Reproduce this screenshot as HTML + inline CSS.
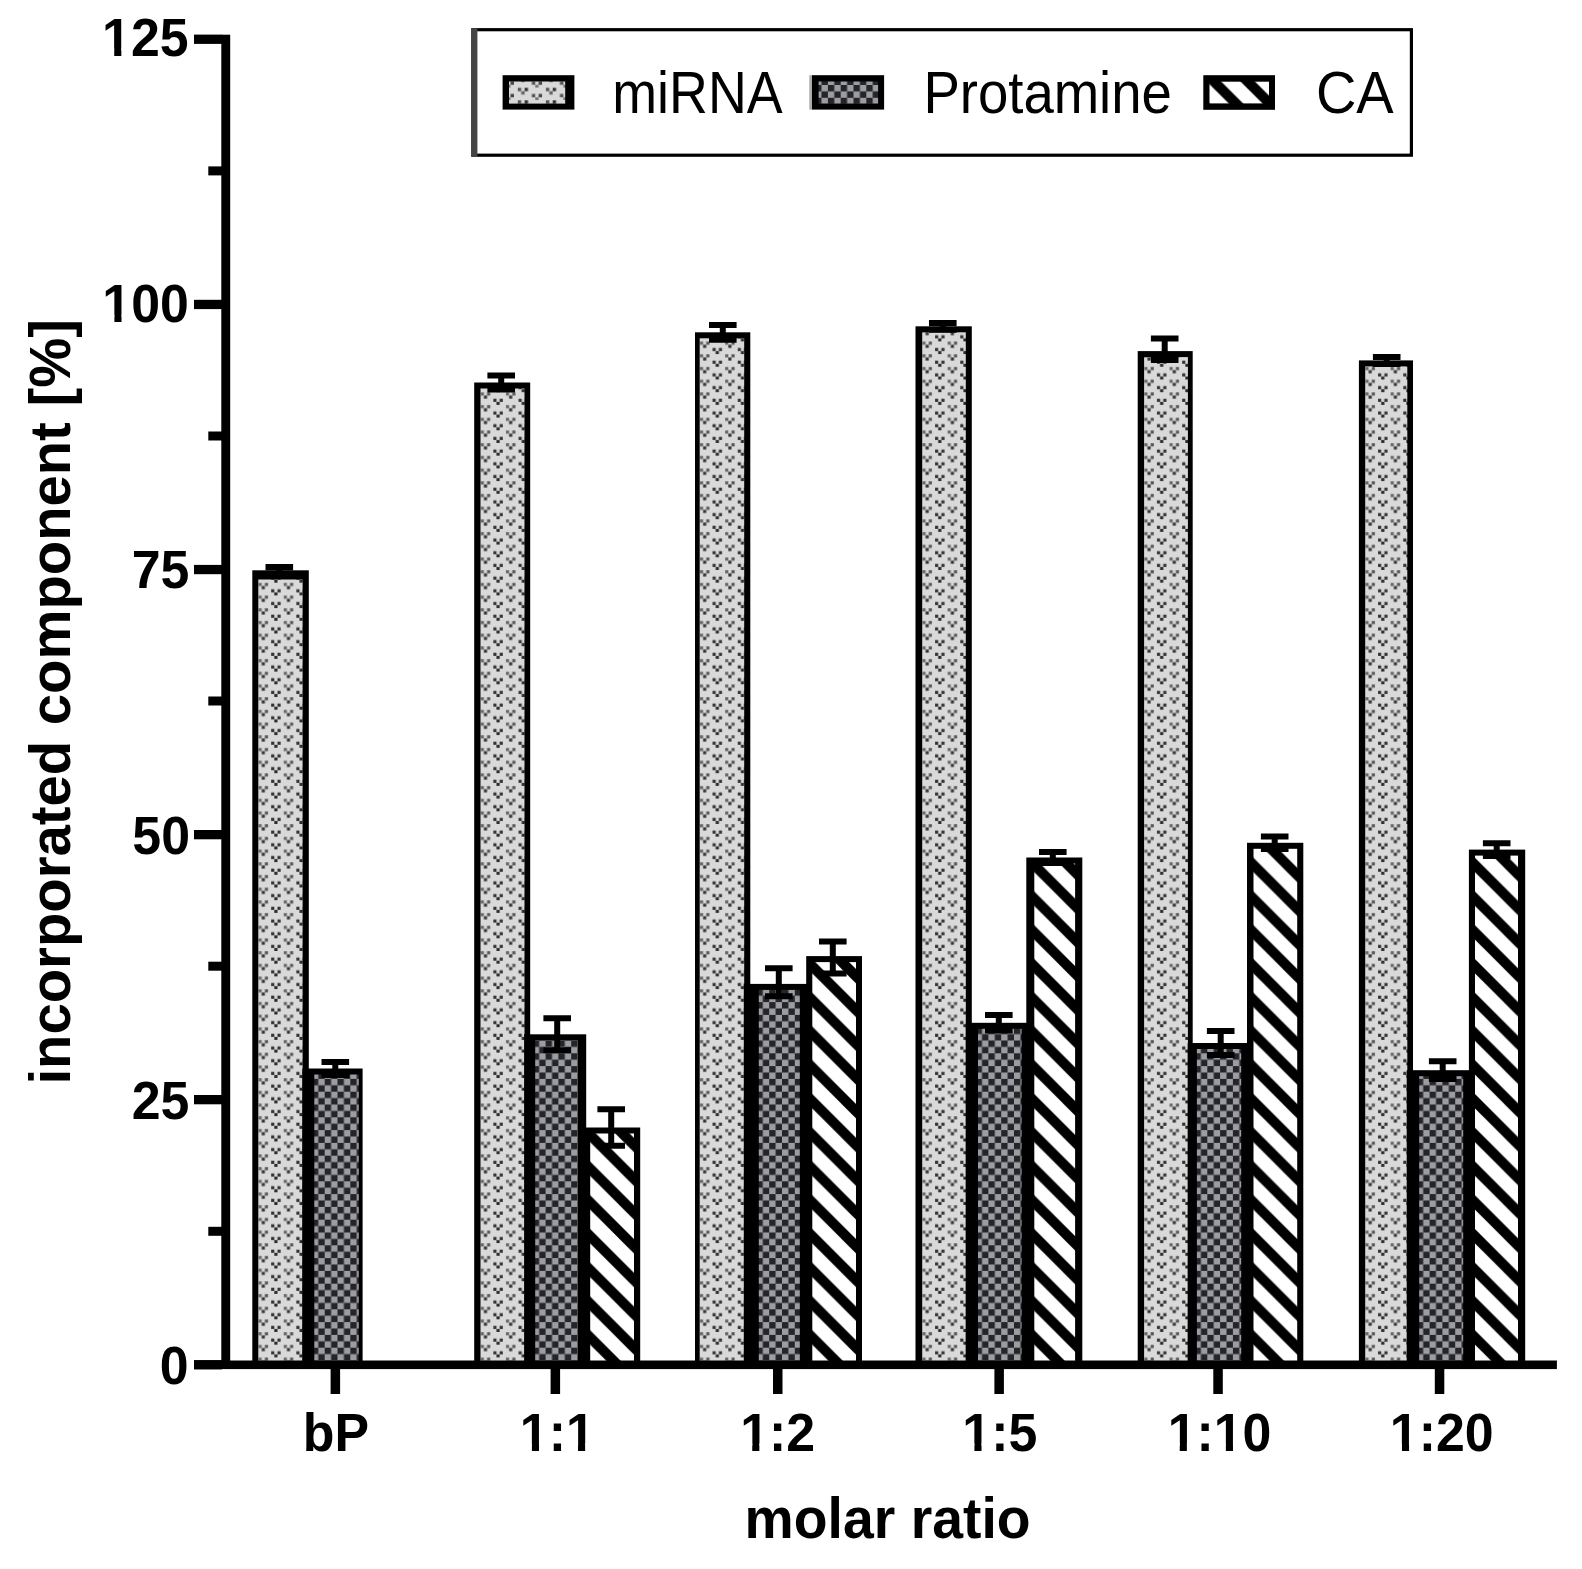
<!DOCTYPE html>
<html lang="en"><head><meta charset="utf-8"><title>Incorporated component vs molar ratio</title>
<style>html,body{margin:0;padding:0;background:#fff}svg{display:block}text{font-family:"Liberation Sans",sans-serif;fill:#000}.b{font-weight:bold}.k{font-kerning:none}</style></head><body>
<svg width="1582" height="1569" viewBox="0 0 1582 1569">
<defs>
<pattern id="pm" patternUnits="userSpaceOnUse" width="25.2" height="12.7"><rect width="25.2" height="12.7" fill="#d9d9d9"/><rect x="0.07" y="0.20" width="3.15" height="3.15" fill="#666"/><rect x="6.37" y="0.20" width="3.15" height="3.15" fill="#555"/><rect x="3.22" y="3.35" width="3.15" height="3.15" fill="#333"/><rect x="12.67" y="6.55" width="3.15" height="3.15" fill="#333"/><rect x="18.97" y="6.55" width="3.15" height="3.15" fill="#333"/><rect x="15.82" y="9.70" width="3.15" height="3.15" fill="#2a2a2a"/></pattern>
<pattern id="pml" patternUnits="userSpaceOnUse" width="28.1" height="12.5" patternTransform="translate(515.9,87.6)"><rect width="28.1" height="12.5" fill="#d9d9d9"/><rect x="1.90" y="0.20" width="3.4" height="3.4" fill="#555"/><rect x="8.70" y="0.20" width="3.4" height="3.4" fill="#333"/><rect x="5.30" y="3.60" width="3.4" height="3.4" fill="#666"/><rect x="15.95" y="6.30" width="3.4" height="3.4" fill="#555"/><rect x="22.75" y="6.30" width="3.4" height="3.4" fill="#444"/><rect x="19.35" y="9.70" width="3.4" height="3.4" fill="#777"/></pattern>
<pattern id="pp" patternUnits="userSpaceOnUse" width="12.8" height="12.8"><rect width="12.8" height="12.8" fill="#9c9ca1"/><rect x="0" y="0" width="6.4" height="6.4" fill="#23252a"/><rect x="6.4" y="6.4" width="6.4" height="6.4" fill="#23252a"/></pattern>
<g id="st"><rect width="33.75" height="33.75" fill="#fff"/><polygon points="-33.75,-67.50 67.50,33.75 67.50,48.05 -33.75,-53.20" fill="#000"/><polygon points="-33.75,-33.75 67.50,67.50 67.50,81.80 -33.75,-19.45" fill="#000"/><polygon points="-33.75,0.00 67.50,101.25 67.50,115.55 -33.75,14.30" fill="#000"/></g>
</defs>
<rect width="1582" height="1569" fill="#fff"/>
<rect x="252.3" y="570.3" width="56.5" height="794.5" fill="#000"/>
<pattern id="q0" href="#pm" patternTransform="translate(258.5,-1.5)"/>
<rect x="258.3" y="579.5" width="44.3" height="781.5" fill="url(#q0)"/>
<path d="M265.5 567.0H293.1M265.5 573.6H293.1M279.3 567.0V573.6" stroke="#000" stroke-width="6" fill="none"/>
<rect x="302.3" y="1068.5" width="60.3" height="296.3" fill="#000"/>
<pattern id="q1" href="#pp" patternTransform="translate(311.9,1360.5)"/>
<rect x="314.3" y="1074.5" width="44.5" height="286.5" fill="url(#q1)"/>
<path d="M321.5 1061.9H349.1M321.5 1075.1H349.1M335.3 1061.9V1075.1" stroke="#000" stroke-width="6" fill="none"/>
<rect x="474.2" y="382.5" width="56.0" height="982.3" fill="#000"/>
<pattern id="q2" href="#pm" patternTransform="translate(480.7,-1.5)"/>
<rect x="480.5" y="388.5" width="44.0" height="972.5" fill="url(#q2)"/>
<path d="M487.4 375.6H515.0M487.4 389.4H515.0M501.2 375.6V389.4" stroke="#000" stroke-width="6" fill="none"/>
<rect x="524.2" y="1034.3" width="62.0" height="330.5" fill="#000"/>
<pattern id="q3" href="#pp" patternTransform="translate(532.8,1360.5)"/>
<rect x="535.2" y="1040.3" width="42.7" height="320.7" fill="url(#q3)"/>
<path d="M543.4 1018.3H571.0M543.4 1050.3H571.0M557.2 1018.3V1050.3" stroke="#000" stroke-width="6" fill="none"/>
<rect x="583.8" y="1127.5" width="56.4" height="237.3" fill="#000"/>
<pattern id="q4" patternUnits="userSpaceOnUse" width="33.75" height="33.75" patternTransform="translate(590.2,1330.3)"><use href="#st"/></pattern>
<rect x="590.2" y="1133.5" width="43.8" height="227.5" fill="url(#q4)"/>
<path d="M597.4 1109.2H625.0M597.4 1145.8H625.0M611.2 1109.2V1145.8" stroke="#000" stroke-width="6" fill="none"/>
<rect x="695.0" y="332.3" width="55.3" height="1032.5" fill="#000"/>
<pattern id="q5" href="#pm" patternTransform="translate(699.9,-1.5)"/>
<rect x="699.7" y="338.3" width="44.5" height="1022.7" fill="url(#q5)"/>
<path d="M709.0 324.9H736.6M709.0 339.7H736.6M722.8 324.9V339.7" stroke="#000" stroke-width="6" fill="none"/>
<rect x="743.8" y="983.9" width="65.0" height="380.9" fill="#000"/>
<pattern id="q6" href="#pp" patternTransform="translate(756.4,1360.5)"/>
<rect x="758.8" y="989.9" width="41.0" height="371.1" fill="url(#q6)"/>
<path d="M765.0 968.3H792.6M765.0 996.3H792.6M778.8 968.3V996.3" stroke="#000" stroke-width="6" fill="none"/>
<rect x="806.2" y="956.1" width="55.8" height="408.7" fill="#000"/>
<pattern id="q7" patternUnits="userSpaceOnUse" width="33.75" height="33.75" patternTransform="translate(812.3,1330.3)"><use href="#st"/></pattern>
<rect x="812.3" y="962.1" width="43.7" height="398.9" fill="url(#q7)"/>
<path d="M819.0 941.5H846.6M819.0 973.5H846.6M832.8 941.5V973.5" stroke="#000" stroke-width="6" fill="none"/>
<rect x="915.5" y="326.3" width="56.3" height="1038.5" fill="#000"/>
<pattern id="q8" href="#pm" patternTransform="translate(922.4,-1.5)"/>
<rect x="922.2" y="332.3" width="43.6" height="1028.7" fill="url(#q8)"/>
<path d="M929.0 322.9H956.6M929.0 329.7H956.6M942.8 322.9V329.7" stroke="#000" stroke-width="6" fill="none"/>
<rect x="965.8" y="1022.8" width="63.0" height="342.0" fill="#000"/>
<pattern id="q9" href="#pp" patternTransform="translate(975.6,1360.5)"/>
<rect x="978.0" y="1028.8" width="43.6" height="332.2" fill="url(#q9)"/>
<path d="M985.0 1014.9H1012.6M985.0 1030.5H1012.6M998.8 1014.9V1030.5" stroke="#000" stroke-width="6" fill="none"/>
<rect x="1026.3" y="857.5" width="56.0" height="507.3" fill="#000"/>
<pattern id="q10" patternUnits="userSpaceOnUse" width="33.75" height="33.75" patternTransform="translate(1034.3,1330.3)"><use href="#st"/></pattern>
<rect x="1034.3" y="863.5" width="40.8" height="497.5" fill="url(#q10)"/>
<path d="M1039.0 852.1H1066.6M1039.0 862.9H1066.6M1052.8 852.1V862.9" stroke="#000" stroke-width="6" fill="none"/>
<rect x="1137.7" y="351.1" width="55.0" height="1013.7" fill="#000"/>
<pattern id="q11" href="#pm" patternTransform="translate(1144.3,-1.5)"/>
<rect x="1144.1" y="357.1" width="43.8" height="1003.9" fill="url(#q11)"/>
<path d="M1150.9 338.4H1178.5M1150.9 360.0H1178.5M1164.7 338.4V360.0" stroke="#000" stroke-width="6" fill="none"/>
<rect x="1187.7" y="1043.0" width="62.0" height="321.8" fill="#000"/>
<pattern id="q12" href="#pp" patternTransform="translate(1194.5,1360.5)"/>
<rect x="1196.9" y="1049.0" width="44.3" height="312.0" fill="url(#q12)"/>
<path d="M1206.9 1030.9H1234.5M1206.9 1055.1H1234.5M1220.7 1030.9V1055.1" stroke="#000" stroke-width="6" fill="none"/>
<rect x="1247.0" y="842.8" width="56.3" height="522.0" fill="#000"/>
<pattern id="q13" patternUnits="userSpaceOnUse" width="33.75" height="33.75" patternTransform="translate(1253.5,1330.3)"><use href="#st"/></pattern>
<rect x="1253.5" y="848.8" width="43.7" height="512.2" fill="url(#q13)"/>
<path d="M1260.9 836.5H1288.5M1260.9 849.1H1288.5M1274.7 836.5V849.1" stroke="#000" stroke-width="6" fill="none"/>
<rect x="1358.9" y="360.4" width="54.1" height="1004.4" fill="#000"/>
<pattern id="q14" href="#pm" patternTransform="translate(1365.4,-1.5)"/>
<rect x="1365.2" y="366.4" width="42.1" height="994.6" fill="url(#q14)"/>
<path d="M1372.9 356.9H1400.5M1372.9 363.9H1400.5M1386.7 356.9V363.9" stroke="#000" stroke-width="6" fill="none"/>
<rect x="1406.7" y="1070.2" width="65.0" height="294.6" fill="#000"/>
<pattern id="q15" href="#pp" patternTransform="translate(1416.8,1360.5)"/>
<rect x="1419.2" y="1076.2" width="44.0" height="284.8" fill="url(#q15)"/>
<path d="M1428.9 1061.3H1456.5M1428.9 1079.1H1456.5M1442.7 1061.3V1079.1" stroke="#000" stroke-width="6" fill="none"/>
<rect x="1468.9" y="849.6" width="56.3" height="515.2" fill="#000"/>
<pattern id="q16" patternUnits="userSpaceOnUse" width="33.75" height="33.75" patternTransform="translate(1475.0,1330.3)"><use href="#st"/></pattern>
<rect x="1475.0" y="855.6" width="43.0" height="505.4" fill="url(#q16)"/>
<path d="M1482.9 843.2H1510.5M1482.9 856.0H1510.5M1496.7 843.2V856.0" stroke="#000" stroke-width="6" fill="none"/>
<rect x="221.3" y="34.7" width="8.9" height="1331.3" fill="#000"/>
<rect x="194" y="1360.5" width="1362.9" height="8.6" fill="#000"/>
<rect x="194" y="34.6" width="28" height="9.3" fill="#000"/>
<rect x="208.3" y="166.4" width="14" height="9" fill="#000"/>
<rect x="194" y="299.8" width="28" height="9.3" fill="#000"/>
<rect x="208.3" y="431.5" width="14" height="9" fill="#000"/>
<rect x="194" y="564.9" width="28" height="9.3" fill="#000"/>
<rect x="208.3" y="696.5" width="14" height="9" fill="#000"/>
<rect x="194" y="830.0" width="28" height="9.3" fill="#000"/>
<rect x="208.3" y="961.7" width="14" height="9" fill="#000"/>
<rect x="194" y="1095.0" width="28" height="9.3" fill="#000"/>
<rect x="208.3" y="1226.8" width="14" height="9" fill="#000"/>
<rect x="194" y="1360.1" width="28" height="9.3" fill="#000"/>
<rect x="330.6" y="1365" width="9.5" height="29" fill="#000"/>
<rect x="550.6" y="1365" width="9.5" height="29" fill="#000"/>
<rect x="773.0" y="1365" width="9.5" height="29" fill="#000"/>
<rect x="994.4" y="1365" width="9.5" height="29" fill="#000"/>
<rect x="1213.3" y="1365" width="9.5" height="29" fill="#000"/>
<rect x="1434.8" y="1365" width="9.5" height="29" fill="#000"/>
<g transform="translate(102.12,55.70) scale(0.955,1)"><text class="b k" font-size="54.3">125</text><rect x="2.42" y="-7.04" width="10.25" height="8.54" fill="#fff"/><rect x="20.12" y="-7.04" width="9.56" height="8.54" fill="#fff"/></g>
<g transform="translate(102.31,322.20) scale(0.955,1)"><text class="b k" font-size="54.3">100</text><rect x="2.42" y="-7.04" width="10.25" height="8.54" fill="#fff"/><rect x="20.12" y="-7.04" width="9.56" height="8.54" fill="#fff"/></g>
<g transform="translate(131.66,587.90) scale(0.955,1)"><text class="b k" font-size="54.3">75</text></g>
<g transform="translate(132.35,853.80) scale(0.955,1)"><text class="b k" font-size="54.3">50</text></g>
<g transform="translate(131.66,1118.80) scale(0.955,1)"><text class="b k" font-size="54.3">25</text></g>
<g transform="translate(159.79,1384.40) scale(0.955,1)"><text class="b k" font-size="54.3">0</text></g>
<g transform="translate(302.85,1450.60) scale(0.955,1)"><text class="b k" font-size="54.3">bP</text></g>
<g transform="translate(519.81,1450.60) scale(0.955,1)"><text class="b k" font-size="54.3">1:1</text><rect x="2.42" y="-7.04" width="10.25" height="8.54" fill="#fff"/><rect x="20.12" y="-7.04" width="9.56" height="8.54" fill="#fff"/><rect x="50.70" y="-7.04" width="10.25" height="8.54" fill="#fff"/><rect x="68.41" y="-7.04" width="9.56" height="8.54" fill="#fff"/></g>
<g transform="translate(740.14,1450.60) scale(0.955,1)"><text class="b k" font-size="54.3">1:2</text><rect x="2.42" y="-7.04" width="10.25" height="8.54" fill="#fff"/><rect x="20.12" y="-7.04" width="9.56" height="8.54" fill="#fff"/></g>
<g transform="translate(962.32,1450.60) scale(0.955,1)"><text class="b k" font-size="54.3">1:5</text><rect x="2.42" y="-7.04" width="10.25" height="8.54" fill="#fff"/><rect x="20.12" y="-7.04" width="9.56" height="8.54" fill="#fff"/></g>
<g transform="translate(1167.65,1450.60) scale(0.955,1)"><text class="b k" font-size="54.3">1:10</text><rect x="2.42" y="-7.04" width="10.25" height="8.54" fill="#fff"/><rect x="20.12" y="-7.04" width="9.56" height="8.54" fill="#fff"/><rect x="50.70" y="-7.04" width="10.25" height="8.54" fill="#fff"/><rect x="68.41" y="-7.04" width="9.56" height="8.54" fill="#fff"/></g>
<g transform="translate(1389.85,1450.60) scale(0.955,1)"><text class="b k" font-size="54.3">1:20</text><rect x="2.42" y="-7.04" width="10.25" height="8.54" fill="#fff"/><rect x="20.12" y="-7.04" width="9.56" height="8.54" fill="#fff"/></g>
<text class="b" x="887.6" y="1537.6" font-size="58" text-anchor="middle" textLength="286" lengthAdjust="spacingAndGlyphs">molar ratio</text>
<text class="b" transform="translate(70.1,701.8) rotate(-90)" font-size="58" text-anchor="middle" textLength="765.5" lengthAdjust="spacingAndGlyphs">incorporated component [%]</text>
<rect x="472.9" y="29.7" width="938.5" height="125.5" fill="#fff" stroke="#000" stroke-width="3.2"/>
<rect x="471.4" y="28.2" width="6" height="128.6" fill="#444"/>
<pattern id="lm" href="#pm" patternTransform="translate(518.1,86.0)"/>
<pattern id="lp" href="#pp" patternTransform="translate(827.9,85.0)"/>
<pattern id="lc" patternUnits="userSpaceOnUse" width="33.75" height="33.75" patternTransform="translate(1209.3,35.9)"><use href="#st"/></pattern>
<rect x="502.6" y="75.2" width="71.8" height="34.4" fill="#000"/>
<rect x="509" y="81.5" width="56.2" height="22.1" fill="url(#pml)"/>
<rect x="809.3" y="75.2" width="3" height="34.4" fill="#aaa"/>
<rect x="812" y="75.2" width="72.1" height="34.4" fill="#000"/>
<rect x="818.6" y="81.5" width="59.5" height="22.1" fill="url(#lp)"/>
<rect x="1203.3" y="75.2" width="71.7" height="34.6" fill="#000"/>
<rect x="1209.5" y="81.7" width="59.5" height="21.7" fill="url(#lc)"/>
<text x="612.3" y="112.5" font-size="60" textLength="170.3" lengthAdjust="spacingAndGlyphs">miRNA</text>
<text x="923.4" y="112.5" font-size="60" textLength="248.5" lengthAdjust="spacingAndGlyphs">Protamine</text>
<text x="1315.9" y="112.5" font-size="60" textLength="77.8" lengthAdjust="spacingAndGlyphs">CA</text>
</svg></body></html>
